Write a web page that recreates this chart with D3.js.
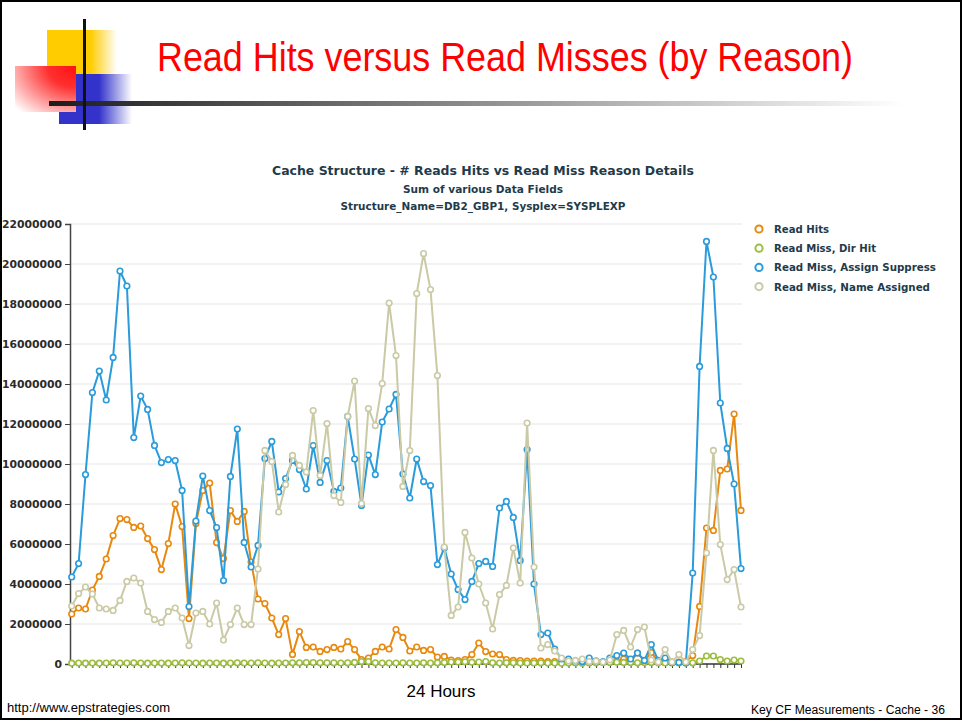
<!DOCTYPE html>
<html>
<head>
<meta charset="utf-8">
<script src="https://cdn.jsdelivr.net/npm/d3@7"></script>
<style>
  body { margin: 0; background: #fff; }
  svg { display: block; }
</style>
</head>
<body>
<svg id="slide"></svg>
<script>
// 98 samples across the 24 hour window, no labels on the x axis
const slots = d3.range(98);

const readHits = [
  2500000, 2800000, 2750000, 3700000, 4380000, 5250000, 6420000, 7270000, 7220000, 6830000,
  6900000, 6270000, 5720000, 4720000, 6020000, 8000000, 6870000, 2270000, 7020000, 8680000,
  9050000, 6070000, 5270000, 7670000, 7130000, 7630000, 5100000, 3250000, 3020000, 2300000,
  1470000, 2270000, 480000, 1620000, 830000, 850000, 630000, 720000, 830000, 750000,
  1120000, 720000, 220000, 300000, 630000, 850000, 750000, 1720000, 1330000, 650000,
  850000, 680000, 720000, 350000, 380000, 200000, 170000, 220000, 470000, 1050000,
  620000, 500000, 470000, 220000, 180000, 170000, 150000, 150000, 150000, 120000,
  120000, 100000, 100000, 120000, 100000, 120000, 150000, 100000, 150000, 150000,
  250000, 120000, 550000, 150000, 580000, 120000, 220000, 100000, 100000, 120000,
  420000, 2880000, 6800000, 6680000, 9680000, 9750000, 12500000, 7680000
];

const missDirHit = [
  40000, 50000, 40000, 50000, 40000, 50000, 60000, 50000, 50000, 60000,
  50000, 40000, 50000, 50000, 40000, 50000, 60000, 50000, 50000, 40000,
  50000, 50000, 40000, 50000, 60000, 50000, 50000, 60000, 50000, 40000,
  50000, 50000, 60000, 60000, 70000, 70000, 60000, 60000, 60000, 50000,
  60000, 80000, 120000, 120000, 60000, 50000, 50000, 50000, 60000, 50000,
  50000, 60000, 50000, 60000, 80000, 100000, 100000, 110000, 90000, 100000,
  120000, 60000, 50000, 60000, 60000, 50000, 50000, 50000, 60000, 50000,
  50000, 40000, 50000, 50000, 40000, 50000, 60000, 70000, 80000, 90000,
  80000, 70000, 60000, 70000, 80000, 60000, 50000, 50000, 60000, 50000,
  60000, 150000, 400000, 400000, 220000, 150000, 200000, 150000
];

const missAssignSuppress = [
  4350000, 5020000, 9470000, 13570000, 14650000, 13200000, 15330000, 19650000, 18900000, 11320000,
  13400000, 12730000, 10930000, 10070000, 10220000, 10170000, 8680000, 2870000, 7150000, 9400000,
  7670000, 6820000, 4170000, 9380000, 11750000, 6080000, 4850000, 5930000, 10270000, 11130000,
  8600000, 9270000, 10180000, 9720000, 8750000, 10920000, 9080000, 10170000, 8630000, 8800000,
  12380000, 10250000, 7930000, 10450000, 9470000, 12100000, 12750000, 13480000, 9500000, 8300000,
  10250000, 9120000, 8920000, 4970000, 5800000, 4500000, 3720000, 3220000, 4130000, 5020000,
  5130000, 4880000, 7800000, 8130000, 7330000, 5180000, 10720000, 4000000, 1470000, 1550000,
  750000, 250000, 250000, 150000, 120000, 300000, 150000, 120000, 300000, 420000,
  550000, 250000, 550000, 180000, 970000, 180000, 300000, 80000, 80000, 50000,
  4550000, 14880000, 21130000, 19350000, 13050000, 10780000, 9000000, 4770000
];

const missNameAssigned = [
  2900000, 3520000, 3850000, 3500000, 2800000, 2750000, 2680000, 3180000, 4130000, 4300000,
  4050000, 2630000, 2220000, 2080000, 2630000, 2800000, 2300000, 920000, 2550000, 2630000,
  2000000, 3050000, 1200000, 1970000, 2800000, 1970000, 1970000, 4750000, 10680000, 10130000,
  7600000, 8970000, 10430000, 9930000, 9600000, 12670000, 9430000, 12020000, 8420000, 8080000,
  12380000, 14150000, 8020000, 12770000, 11920000, 14020000, 18050000, 15420000, 8880000, 10670000,
  18520000, 20520000, 18720000, 14420000, 5850000, 2430000, 2850000, 6580000, 5300000, 4000000,
  3050000, 1750000, 3470000, 3930000, 5800000, 4050000, 12050000, 4850000, 800000, 970000,
  650000, 300000, 150000, 180000, 250000, 120000, 150000, 100000, 200000, 1470000,
  1680000, 850000, 1720000, 1850000, 200000, 100000, 720000, 100000, 470000, 100000,
  720000, 1420000, 5550000, 10680000, 5970000, 4220000, 4720000, 2850000
];

const seriesNames = ['Read Hits', 'Read Miss, Dir Hit', 'Read Miss, Assign Suppress', 'Read Miss, Name Assigned'];
const yTicks = [0, 2000000, 4000000, 6000000, 8000000, 10000000, 12000000, 14000000, 16000000, 18000000, 20000000, 22000000];

const COLORS = ['#e8890f', '#9dbd3e', '#2a9bdb', '#cacaa6'];
const TEXT_DARK = '#1f3b4b';

const W = 963;
const H = 721;

const svg = d3.select('#slide').attr('width', W).attr('height', H);
const defs = svg.append('defs');

function hGrad(id, from, to, stop) {
  const g = defs.append('linearGradient').attr('id', id)
    .attr('x1', 0).attr('y1', 0).attr('x2', 1).attr('y2', 0);
  g.append('stop').attr('offset', 0).attr('stop-color', from);
  g.append('stop').attr('offset', stop).attr('stop-color', from);
  g.append('stop').attr('offset', 1).attr('stop-color', to);
}
hGrad('gYellow', '#ffcc00', '#ffffff', 0.62);
hGrad('gBlue', '#3333cc', '#ffffff', 0.55);
hGrad('gBar', '#1c1c1c', '#ffffff', 0);

const red = defs.append('radialGradient').attr('id', 'gRed')
  .attr('cx', 1).attr('cy', 0).attr('r', 1.35);
red.append('stop').attr('offset', 0).attr('stop-color', '#ff1010');
red.append('stop').attr('offset', 0.35).attr('stop-color', '#ff3030');
red.append('stop').attr('offset', 1).attr('stop-color', '#ffffff');

// slide frame + corner decoration
svg.append('rect').attr('x', 1).attr('y', 1).attr('width', W - 3).attr('height', H - 3)
  .attr('fill', '#fff').attr('stroke', '#000').attr('stroke-width', 2);

svg.append('rect').attr('x', 47).attr('y', 30).attr('width', 70).attr('height', 44).attr('fill', 'url(#gYellow)');
svg.append('rect').attr('x', 59).attr('y', 74).attr('width', 73).attr('height', 50).attr('fill', 'url(#gBlue)');
svg.append('rect').attr('x', 15).attr('y', 66).attr('width', 61).attr('height', 46).attr('fill', 'url(#gRed)');
svg.append('rect').attr('x', 49).attr('y', 101).attr('width', 855).attr('height', 5).attr('fill', 'url(#gBar)');
svg.append('rect').attr('x', 83).attr('y', 19).attr('width', 3).attr('height', 111).attr('fill', '#111');

svg.append('text')
  .attr('x', 157).attr('y', 71)
  .attr('textLength', 696).attr('lengthAdjust', 'spacingAndGlyphs')
  .style('font-family', 'Liberation Sans, Arial, sans-serif')
  .style('font-size', '40px')
  .attr('fill', '#ff0000')
  .text('Read Hits versus Read Misses (by Reason)');

// chart titles
const titles = [
  { t: 'Cache Structure - # Reads Hits vs Read Miss Reason Details', y: 175, size: 13, w: 422 },
  { t: 'Sum of various Data Fields', y: 193, size: 11, w: 160 },
  { t: 'Structure_Name=DB2_GBP1, Sysplex=SYSPLEXP', y: 210, size: 11, w: 285 },
];
svg.selectAll('.ctitle').data(titles).enter().append('text')
  .attr('class', 'ctitle')
  .attr('x', 483).attr('y', d => d.y)
  .attr('text-anchor', 'middle')
  .attr('textLength', d => d.w).attr('lengthAdjust', 'spacingAndGlyphs')
  .style('font-family', 'DejaVu Sans, Verdana, sans-serif')
  .style('font-weight', 'bold')
  .style('font-size', d => `${d.size}px`)
  .attr('fill', TEXT_DARK)
  .text(d => d.t);

// plot
const x = d3.scalePoint().domain(slots).range([71.7, 741]);
const y = d3.scaleLinear().domain([0, 22000000]).range([664, 224]);
const plotLeft = 70;
const plotRight = 742;

const grid = svg.append('g');
grid.selectAll('line').data(yTicks.filter(d => d > 0)).enter().append('line')
  .attr('x1', plotLeft).attr('x2', plotRight)
  .attr('y1', d => y(d)).attr('y2', d => y(d))
  .attr('stroke', '#eeeeee').attr('stroke-width', 1.5);

const yAxis = svg.append('g')
  .attr('transform', `translate(${plotLeft},0)`)
  .call(d3.axisLeft(y).tickValues(yTicks).tickFormat(d3.format('d')).tickSize(5).tickPadding(3));
yAxis.select('.domain').attr('stroke', '#444').attr('stroke-width', 1.5);
yAxis.selectAll('.tick line').attr('stroke', '#444');
yAxis.selectAll('text')
  .style('font-family', 'DejaVu Sans, Verdana, sans-serif')
  .style('font-weight', 'bold')
  .style('font-size', '10.8px')
  .attr('fill', '#2b2b2b');

const xAxis = svg.append('g')
  .attr('transform', 'translate(0,664)')
  .call(d3.axisBottom(x).tickFormat('').tickSize(4).tickSizeOuter(0));
xAxis.select('.domain').attr('stroke', '#333').attr('stroke-width', 1.5)
  .attr('d', `M${plotLeft},0H${plotRight}`);
xAxis.selectAll('.tick line').attr('stroke', '#333');

const allSeries = [readHits, missDirHit, missAssignSuppress, missNameAssigned];
const line = d3.line().x((d, i) => x(slots[i])).y(d => y(d));

allSeries.forEach((values, s) => {
  const g = svg.append('g').attr('class', 'series');
  g.append('path')
    .attr('d', line(values))
    .attr('fill', 'none')
    .attr('stroke', COLORS[s])
    .attr('stroke-width', 2)
    .attr('stroke-linejoin', 'round');
  g.selectAll('circle').data(values).enter().append('circle')
    .attr('cx', (d, i) => x(slots[i]))
    .attr('cy', d => y(d))
    .attr('r', 2.8)
    .attr('fill', '#fff')
    .attr('stroke', COLORS[s])
    .attr('stroke-width', 1.6);
});

// legend
const legendWidths = [55, 102, 162, 156];
const legend = svg.append('g').attr('transform', 'translate(759,229)');
const items = legend.selectAll('g').data(seriesNames).enter().append('g')
  .attr('transform', (d, i) => `translate(0,${i * 19.2})`);
items.append('circle')
  .attr('r', 3.6).attr('fill', '#fff')
  .attr('stroke', (d, i) => COLORS[i]).attr('stroke-width', 2);
items.append('text')
  .attr('x', 15).attr('y', 4)
  .attr('textLength', (d, i) => legendWidths[i]).attr('lengthAdjust', 'spacingAndGlyphs')
  .style('font-family', 'DejaVu Sans, Verdana, sans-serif')
  .style('font-weight', 'bold')
  .style('font-size', '11px')
  .attr('fill', TEXT_DARK)
  .text(d => d);

// footer
const footFont = 'Liberation Sans, Arial, sans-serif';
svg.append('text')
  .attr('x', 441).attr('y', 697).attr('text-anchor', 'middle')
  .style('font-family', footFont).style('font-size', '17px')
  .attr('fill', '#000').text('24 Hours');
svg.append('text')
  .attr('x', 7).attr('y', 712)
  .attr('textLength', 163).attr('lengthAdjust', 'spacingAndGlyphs')
  .style('font-family', footFont).style('font-size', '12px')
  .attr('fill', '#000').text('http://www.epstrategies.com');
svg.append('text')
  .attr('x', 751).attr('y', 714)
  .attr('textLength', 194).attr('lengthAdjust', 'spacingAndGlyphs')
  .style('font-family', footFont).style('font-size', '12px')
  .attr('fill', '#000').text('Key CF Measurements - Cache - 36');
</script>
</body>
</html>
